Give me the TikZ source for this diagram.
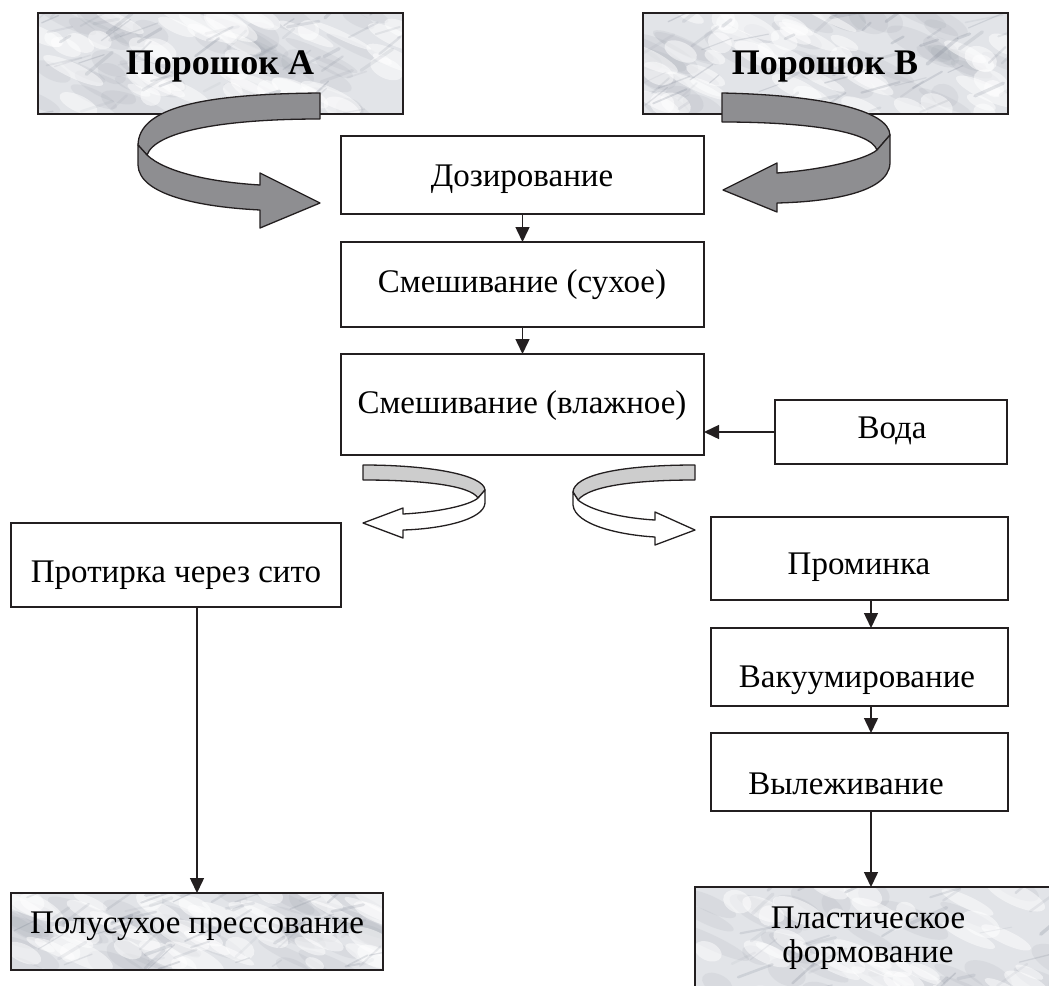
\documentclass[tikz,border=0pt]{standalone}
\usepackage{fontspec}
\setmainfont{Liberation Serif}
\usetikzlibrary{arrows.meta,calc}

\definecolor{marblebase}{RGB}{226,228,232}
\definecolor{marblecloud}{RGB}{150,156,168}
\definecolor{marblevein}{RGB}{110,118,134}
\definecolor{ribbondark}{RGB}{142,142,145}
\definecolor{ribbonlight}{RGB}{205,205,205}
\definecolor{inkline}{RGB}{35,31,32}

% marble texture inside the rectangle (#1,#2)-(#3,#4), seed #5
\newcommand\marblepatch[5]{%
  \begin{scope}
    \clip (#1,#2) rectangle (#3,#4);
    \fill[marblebase] (#1,#2) rectangle (#3,#4);
    \pgfmathsetseed{#5}%
    % soft grey clouds
    \foreach \k in {1,...,40}{%
      \pgfmathsetmacro\px{#1+(#3-#1)*rnd}%
      \pgfmathsetmacro\py{#2+(#4-#2)*rnd}%
      \pgfmathsetmacro\rx{14+30*rnd}%
      \pgfmathsetmacro\ry{5+9*rnd}%
      \fill[marblecloud, opacity=0.13, rotate around={-25:(\px,\py)}]
        (\px,\py) ellipse ({\rx pt} and {\ry pt});
    }
    % white patches
    \foreach \k in {1,...,45}{%
      \pgfmathsetmacro\px{#1+(#3-#1)*rnd}%
      \pgfmathsetmacro\py{#2+(#4-#2)*rnd}%
      \pgfmathsetmacro\rx{10+25*rnd}%
      \pgfmathsetmacro\ry{4+8*rnd}%
      \fill[white, opacity=0.5, rotate around={-25:(\px,\py)}]
        (\px,\py) ellipse ({\rx pt} and {\ry pt});
    }
    % fine veins
    \foreach \k in {1,...,55}{%
      \pgfmathsetmacro\px{#1+(#3-#1)*rnd}%
      \pgfmathsetmacro\py{#2+(#4-#2)*rnd}%
      \pgfmathsetmacro\ln{10+30*rnd}%
      \pgfmathsetmacro\an{-10-35*rnd}%
      \pgfmathsetmacro\lw{1+2.5*rnd}%
      \pgfmathsetmacro\op{0.06+0.16*rnd}%
      \draw[marblevein, line width=\lw pt, opacity=\op, line cap=round]
        (\px,\py) -- ++(\an:\ln);
    }
  \end{scope}}

\begin{document}
\begin{tikzpicture}[x=1pt,y=-1pt,
  every node/.style={inner sep=0pt, outer sep=0pt},
  stepbox/.style={draw=inkline, line width=1.5pt, fill=white, rectangle, anchor=north west},
  framebox/.style={draw=inkline, line width=1.5pt, rectangle, anchor=north west},
  lbl/.style={anchor=base, font=\fontsize{33}{38}\selectfont},
  head/.style={anchor=base, font=\bfseries\fontsize{36}{40}\selectfont},
  arr/.style={draw=inkline, line width=1.5pt, -{Triangle[length=15pt,width=14pt]}},
  ribbon/.style={draw=inkline, line width=1.3pt, line join=round},
]
\useasboundingbox (0,0) rectangle (1049,985);
\clip (0,0) rectangle (1049,985);
\fill[white] (0,0) rectangle (1049,985);

% marble-faced boxes
\marblepatch{38}{13}{403}{114}{11}
\marblepatch{643}{13}{1008}{114}{23}
\marblepatch{11}{893}{383}{970}{37}
\marblepatch{695}{887}{1095}{1037}{41}

\node[framebox, minimum width=365pt, minimum height=101pt] (powA) at (38,13) {};
\node[framebox, minimum width=365pt, minimum height=101pt] (powB) at (643,13) {};
\node[framebox, minimum width=372pt, minimum height=77pt] (polu) at (11,893) {};
\node[framebox, minimum width=400pt, minimum height=150pt] (plast) at (695,887) {};

% process steps
\node[stepbox, minimum width=363pt, minimum height=78pt]  (doz)  at (341,136) {};
\node[stepbox, minimum width=363pt, minimum height=85pt]  (msuh) at (341,242) {};
\node[stepbox, minimum width=363pt, minimum height=101pt] (mvl)  at (341,354) {};
\node[stepbox, minimum width=232pt, minimum height=64pt]  (voda) at (775,400) {};
\node[stepbox, minimum width=330pt, minimum height=84pt]  (prot) at (11,523) {};
\node[stepbox, minimum width=297pt, minimum height=83pt]  (prom) at (711,517) {};
\node[stepbox, minimum width=297pt, minimum height=78pt]  (vak)  at (711,628) {};
\node[stepbox, minimum width=297pt, minimum height=78pt]  (vyl)  at (711,733) {};

% labels
\node[head] (powA-t) at (220,74) {Порошок А};
\node[head] (powB-t) at (825,74) {Порошок В};
\node[lbl] (doz-t)  at (522,186) {Дозирование};
\node[lbl] (msuh-t) at (522,292) {Смешивание (сухое)};
\node[lbl] (mvl-t)  at (522,413) {Смешивание (влажное)};
\node[lbl] (voda-t) at (892,438) {Вода};
\node[lbl] (prot-t) at (176,582) {Протирка через сито};
\node[lbl] (prom-t) at (859,574) {Проминка};
\node[lbl] (vak-t)  at (857,687) {Вакуумирование};
\node[lbl] (vyl-t)  at (846,794) {Вылеживание};
\node[lbl] (polu-t) at (197,933) {Полусухое прессование};
\node[lbl] (plast-t1) at (868,928) {Пластическое};
\node[lbl] (plast-t2) at (868,962) {формование};

% connectors
\coordinate (rcol) at (871,0);
\draw[arr] (doz.south) -- (msuh.north);
\draw[arr] (msuh.south) -- (mvl.north);
\draw[arr] (voda.west) -- (voda.west -| mvl.east);
\draw[arr] (prot.south -| polu.north) -- (polu.north);
\draw[arr] (prom.south -| rcol) -- (vak.north -| rcol);
\draw[arr] (vak.south -| rcol) -- (vyl.north -| rcol);
\draw[arr] (vyl.south -| rcol) -- (plast.north -| rcol);

% ribbon arrow: powder A -> dosing
\filldraw[ribbon, fill=ribbondark]
  (320,93) .. controls (200,94) and (139,108) .. (138,145) -- (147,155)
  .. controls (155,132) and (220,119) .. (320,119) -- cycle;
\filldraw[ribbon, fill=ribbondark]
  (147,155) -- (138,145) -- (138,165) .. controls (139,195) and (200,207) .. (260,210)
  -- (260,228) -- (320,203) -- (260,173) -- (260,185)
  .. controls (210,182) and (165,172) .. (147,155) -- cycle;

% ribbon arrow: powder B -> dosing
\filldraw[ribbon, fill=ribbondark]
  (722,93) .. controls (820,95) and (889,110) .. (890,135) -- (877,150)
  .. controls (870,130) and (800,122) .. (722,122) -- cycle;
\filldraw[ribbon, fill=ribbondark]
  (877,150) -- (890,135) -- (890,163) .. controls (889,195) and (820,202) .. (777,203)
  -- (777,212) -- (723,190) -- (777,163) -- (777,173)
  .. controls (820,170) and (865,160) .. (877,150) -- cycle;

% ribbon arrow: wet mixing -> sieving
\filldraw[ribbon, fill=ribbonlight]
  (363,465) .. controls (430,465) and (484,475) .. (485,490) -- (478,498)
  .. controls (470,485) and (420,480) .. (363,480) -- cycle;
\filldraw[ribbon, fill=white]
  (478,498) -- (485,490) -- (485,503) .. controls (484,520) and (440,529) .. (403,530)
  -- (403,538) -- (363,523) -- (403,508) -- (403,514)
  .. controls (440,512) and (470,505) .. (478,498) -- cycle;

% ribbon arrow: wet mixing -> kneading
\filldraw[ribbon, fill=ribbonlight]
  (695,465) .. controls (620,465) and (574,475) .. (573,492) -- (578,500)
  .. controls (590,485) and (640,480) .. (695,480) -- cycle;
\filldraw[ribbon, fill=white]
  (578,500) -- (573,492) -- (573,505) .. controls (575,525) and (620,535) .. (655,537)
  -- (655,545) -- (695,530) -- (655,512) -- (655,520)
  .. controls (620,518) and (590,510) .. (578,500) -- cycle;
\end{tikzpicture}
\end{document}
